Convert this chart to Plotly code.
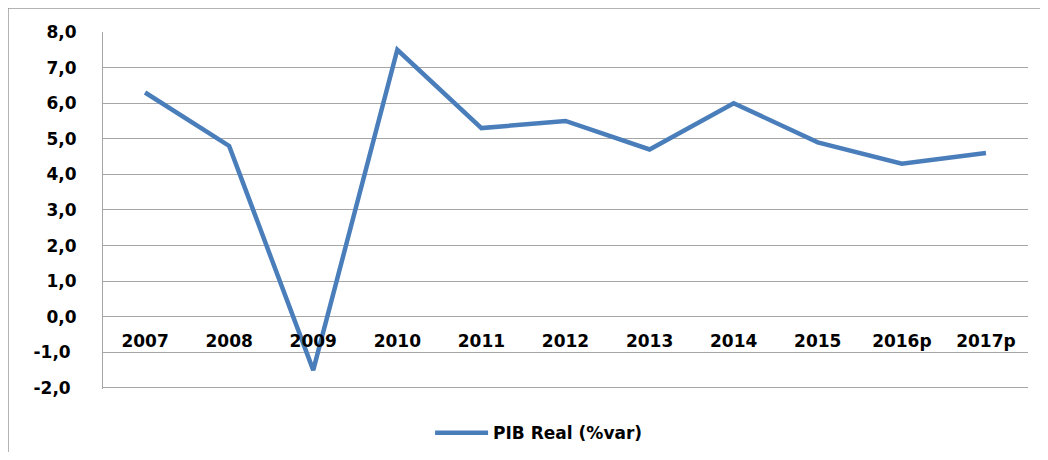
import plotly.graph_objects as go

years = ['2007', '2008', '2009', '2010', '2011', '2012',
         '2013', '2014', '2015', '2016p', '2017p']
pib_real = [6.3, 4.8, -1.5, 7.5, 5.3, 5.5, 4.7, 6.0, 4.9, 4.3, 4.6]

y_ticks = [-2, -1, 0, 1, 2, 3, 4, 5, 6, 7, 8]
y_labels = ['-2,0\u00a0', '-1,0\u00a0', '0,0', '1,0', '2,0', '3,0',
            '4,0', '5,0', '6,0', '7,0', '8,0']

grey = '#a6a6a6'
fnt = dict(family='DejaVu Sans', size=17, color='#000000')

fig = go.Figure()
fig.add_trace(
    go.Scatter(x=years,
               y=pib_real,
               mode='lines',
               name='<b>PIB Real (%var)</b>',
               line=dict(color='#4a7ebb', width=4.5)
              )
)

# page body has an 8px margin, so the figure is 16px smaller than the window
fig.update_layout(
    width=1032, height=444,
    template='plotly_white',
    plot_bgcolor='white',
    paper_bgcolor='white',
    margin=dict(l=95, r=12, t=24, b=63, autoexpand=False),
    font=fnt,
    showlegend=True,
    legend=dict(orientation='h', x=0.3536, xanchor='left',
                y=-0.124, yanchor='middle', itemwidth=53,
                font=fnt, bgcolor='rgba(0,0,0,0)'),
)
# y=0 sits at 2.03/10.03 of the plot height
fig.update_xaxes(
    type='category',
    range=[-0.5, len(years) - 0.5],
    anchor='free', position=2.03 / 10.03, automargin=False,
    showgrid=False, showline=False, zeroline=False,
    ticks='', ticklabelstandoff=12,
    tickvals=years, ticktext=['<b>%s</b>' % y for y in years],
    tickfont=fnt,
)
# a little room below -2 so plotly keeps that gridline
fig.update_yaxes(
    range=[-2.03, 8], automargin=False,
    tickvals=y_ticks, ticktext=['<b>%s</b>' % t for t in y_labels],
    showgrid=True, gridcolor=grey, gridwidth=1,
    zeroline=False,
    showline=True, linecolor=grey, linewidth=1,
    ticks='', ticklabelstandoff=22,
    tickfont=fnt,
)
# outer chart frame
fig.add_shape(type='rect', xref='paper', yref='paper',
              x0=-0.1027, x1=1.05, y0=-0.3, y1=1.067,
              line=dict(color='#9a9a9a', width=1.5))

fig.write_html("out.html")
